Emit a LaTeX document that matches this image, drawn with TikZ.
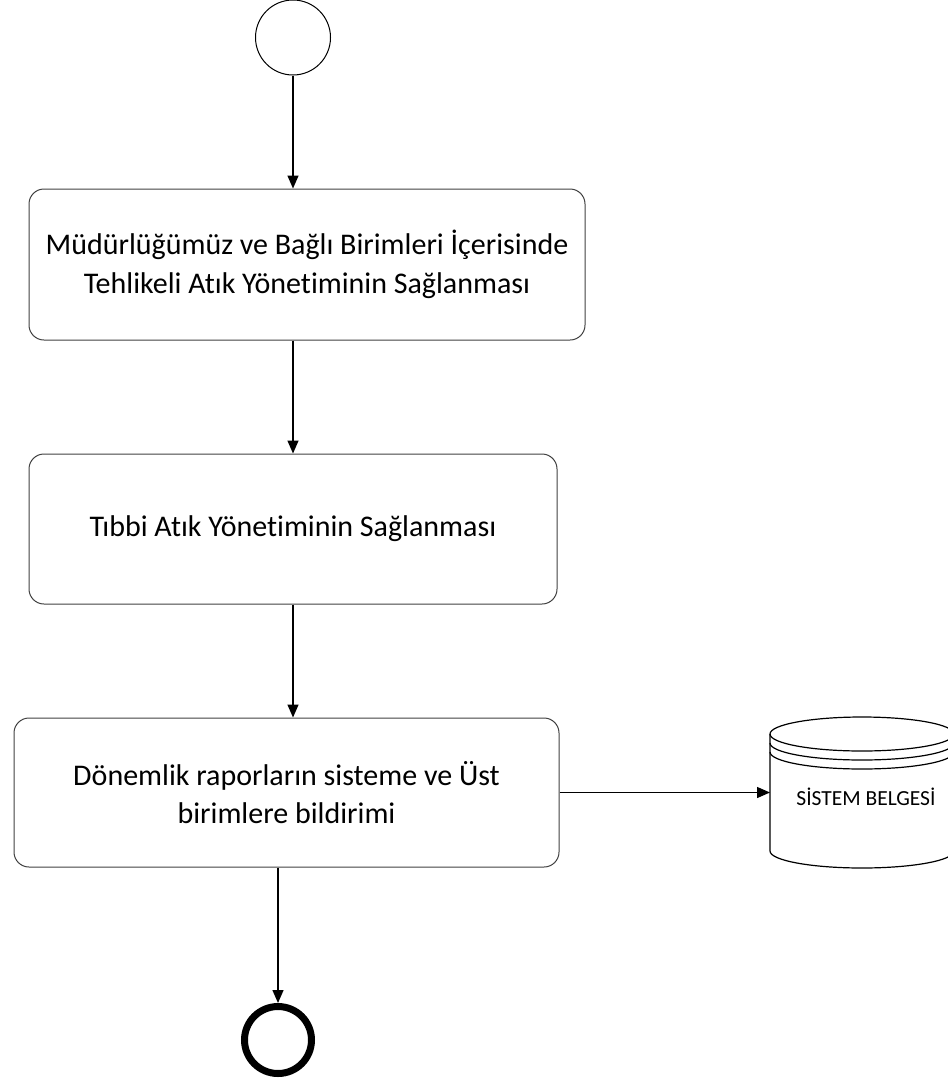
\documentclass[tikz,border=0pt]{standalone}
\usepackage{fontspec}
\setmainfont{Carlito}[Ligatures=NoCommon]
\usetikzlibrary{arrows.meta}
\begin{document}
\begin{tikzpicture}[x=1pt, y=-1pt,
  box/.style={draw=black!75, line width=1pt, rounded corners=15pt, align=center,
    font=\fontsize{30}{38.5}\selectfont},
  flow/.style={-{Triangle[length=13pt, width=11pt]}, line width=1.4pt}]
\useasboundingbox (0,0) rectangle (948,1080);
\node[draw, circle, line width=1pt, minimum size=75pt, inner sep=0pt] (start) at (293,37.5) {};
\node[box, minimum width=556pt, minimum height=151pt] (box1) at (307,264.5)
  {Müdürlüğümüz ve Bağlı Birimleri İçerisinde\\Tehlikeli Atık Yönetiminin Sağlanması};
\node[box, minimum width=528pt, minimum height=150pt] (box2) at (293,529)
  {Tıbbi Atık Yönetiminin Sağlanması};
\node[box, minimum width=545pt, minimum height=149pt] (box3) at (286.5,792.5)
  {Dönemlik raporların sisteme ve Üst\\birimlere bildirimi};
\node[draw, circle, line width=7pt, minimum size=67pt, inner sep=0pt] (end) at (278,1040) {};
% database
\draw[line width=1.2pt] (770,734) -- (770,851) arc[start angle=180, end angle=0, x radius=92, y radius=17] -- (954,734);
\draw[line width=1.2pt] (862,734) ellipse[x radius=92, y radius=17];
\draw[line width=1.2pt] (770,743) arc[start angle=180, end angle=0, x radius=92, y radius=17];
\draw[line width=1.2pt] (770,752) arc[start angle=180, end angle=0, x radius=92, y radius=17];
\node[font=\fontsize{21.5}{26}\selectfont] (db) at (866,797) {SİSTEM BELGESİ};
\coordinate (dbleft) at (770,792.5);
% arrows
\draw[flow] (start) -- (start |- box1.north);
\draw[flow] (box1.south -| start) -- (box2.north -| start);
\draw[flow] (box2.south -| start) -- (box3.north -| start);
\draw[flow] (box3.south -| end) -- (end);
\draw[flow] (box3.east) -- (dbleft);
\end{tikzpicture}
\end{document}
